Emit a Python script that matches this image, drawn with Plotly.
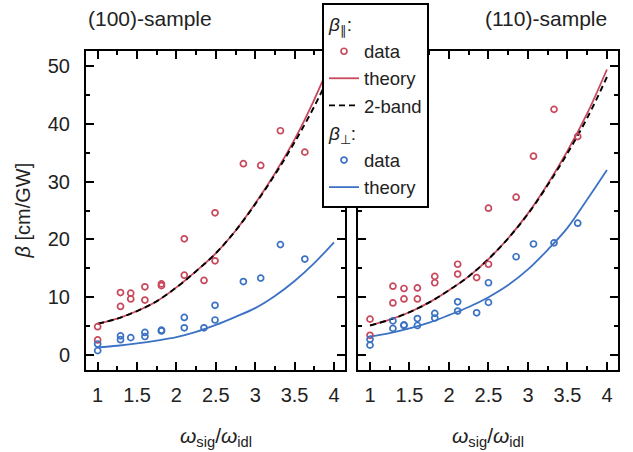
import plotly.graph_objects as go

# ---------------- data ----------------
# theory curve sample points
x_th = [1.0, 1.25, 1.5, 1.75, 2.0, 2.25, 2.5, 2.75, 3.0, 3.25, 3.5, 3.75, 4.0]

# (100)-sample
l_par_th = [5.4, 6.3, 7.6, 9.3, 11.7, 14.5, 17.6, 21.5, 26.2, 31.4, 37.3, 44.2, 52.0]
l_2band = [5.4, 6.3, 7.6, 9.3, 11.7, 14.5, 17.6, 21.5, 26.1, 31.2, 36.8, 43.0, 50.0]
l_perp_th = [1.3, 1.6, 2.0, 2.5, 3.1, 4.0, 5.2, 6.6, 8.1, 10.2, 12.8, 15.9, 19.5]

l_par_x = [1.0, 1.0, 1.29, 1.29, 1.42, 1.42, 1.6, 1.6, 1.81, 1.81, 2.1, 2.1, 2.35,
           2.49, 2.49, 2.85, 3.07, 3.32, 3.63]
l_par_y = [4.9, 2.6, 10.8, 8.4, 10.7, 9.7, 11.8, 9.5, 12.3, 12.0, 20.1, 13.8, 12.9,
           24.6, 16.3, 33.1, 32.8, 38.8, 35.1]
l_perp_x = [1.0, 1.0, 1.29, 1.29, 1.42, 1.6, 1.6, 1.81, 1.81, 2.1, 2.1, 2.35,
            2.49, 2.49, 2.85, 3.07, 3.32, 3.63]
l_perp_y = [1.9, 0.75, 3.3, 2.65, 3.0, 3.9, 3.2, 4.3, 4.15, 6.5, 4.7, 4.7,
            8.6, 6.05, 12.7, 13.3, 19.1, 16.6]

# (110)-sample
r_par_th = [5.1, 6.1, 7.4, 9.1, 11.2, 13.6, 16.6, 20.2, 24.5, 29.6, 35.3, 41.8, 49.4]
r_2band = [5.1, 6.1, 7.4, 9.1, 11.2, 13.6, 16.6, 20.2, 24.4, 29.4, 34.9, 41.0, 48.1]
r_perp_th = [3.2, 3.8, 4.6, 5.6, 6.9, 8.3, 10.0, 12.1, 14.8, 18.2, 22.0, 26.9, 32.0]

r_par_x = [1.0, 1.0, 1.29, 1.29, 1.43, 1.43, 1.6, 1.6, 1.82, 1.82, 2.11, 2.11, 2.35,
           2.5, 2.5, 2.85, 3.07, 3.33, 3.63]
r_par_y = [6.2, 3.4, 11.9, 9.0, 11.5, 9.7, 11.6, 9.7, 13.6, 12.5, 15.7, 14.0, 13.4,
           25.4, 15.7, 27.3, 34.4, 42.5, 37.8]
r_perp_x = [1.0, 1.0, 1.29, 1.29, 1.43, 1.43, 1.6, 1.6, 1.82, 1.82, 2.11, 2.11, 2.35,
            2.5, 2.5, 2.85, 3.07, 3.33, 3.63]
r_perp_y = [2.7, 1.7, 5.9, 4.6, 5.2, 5.1, 6.3, 5.1, 7.2, 6.4, 9.2, 7.6, 7.3,
            12.5, 9.1, 17.0, 19.2, 19.4, 22.8]

x_ticks = [1, 1.5, 2, 2.5, 3, 3.5, 4]
x_ticklabels = ["1", "1.5", "2", "2.5", "3", "3.5", "4"]
y_ticks = [0, 10, 20, 30, 40, 50]

titles = ["(100)-sample", "(110)-sample"]

# ---------------- style ----------------
RED = "#C8485C"
BLUE = "#3B72C4"
FONT = "Liberation Sans"
TXT = "#222"

fig = go.Figure()

panels = [
    ("x", "y", l_par_th, l_2band, l_perp_th, l_par_x, l_par_y, l_perp_x, l_perp_y, True),
    ("x2", "y2", r_par_th, r_2band, r_perp_th, r_par_x, r_par_y, r_perp_x, r_perp_y, False),
]

par_title = "<i>β</i><sub>∥</sub>:"
perp_title = "<i>β</i><sub>⊥</sub>:"

for xa, ya, pth, band, perth, px, py, qx, qy, show in panels:
    fig.add_trace(go.Scatter(x=x_th, y=pth, mode="lines", line=dict(color=RED, width=1.8, shape="spline"),
                             name="theory", legendgroup="par", legendgrouptitle_text=par_title,
                             legendrank=2, showlegend=show, xaxis=xa, yaxis=ya))
    fig.add_trace(go.Scatter(x=x_th, y=band, mode="lines",
                             line=dict(color="black", width=1.9, dash="6px,4px", shape="spline"),
                             name="2-band", legendgroup="par", legendrank=3, showlegend=show,
                             xaxis=xa, yaxis=ya))
    fig.add_trace(go.Scatter(x=x_th, y=perth, mode="lines", line=dict(color=BLUE, width=1.8, shape="spline"),
                             name="theory", legendgroup="perp", legendgrouptitle_text=perp_title,
                             legendrank=5, showlegend=show, xaxis=xa, yaxis=ya))
    fig.add_trace(go.Scatter(x=px, y=py, mode="markers",
                             marker=dict(symbol="circle-open", size=6, color=RED, line=dict(width=1.7)),
                             name="data", legendgroup="par", legendgrouptitle_text=par_title,
                             legendrank=1, showlegend=show, xaxis=xa, yaxis=ya))
    fig.add_trace(go.Scatter(x=qx, y=qy, mode="markers",
                             marker=dict(symbol="circle-open", size=6, color=BLUE, line=dict(width=1.7)),
                             name="data", legendgroup="perp", legendgrouptitle_text=perp_title,
                             legendrank=4, showlegend=show, xaxis=xa, yaxis=ya))

axis_common = dict(
    showline=True, linecolor="black", linewidth=2, mirror="allticks",
    ticks="inside", ticklen=8, tickwidth=2, tickcolor="black",
    showgrid=False, zeroline=False,
    tickfont=dict(family=FONT, size=20, color=TXT),
)

L = 86
R = 618
W = 633
H = 452
T = 51
B = 370
pw = R - L
d1 = (345 - L) / pw
d2 = (358 - L) / pw

fig.update_layout(
    width=W, height=H,
    margin=dict(l=L, r=W - R, t=T, b=H - B, autoexpand=False),
    plot_bgcolor="white", paper_bgcolor="white",
    font=dict(family=FONT, size=20, color=TXT),
    xaxis=dict(domain=[0, d1], range=[0.852, 4.14], tickvals=x_ticks, ticktext=x_ticklabels,
               minor=dict(dtick=0.25, tick0=0, ticklen=4, tickwidth=2, ticks="inside", tickcolor="black"),
               ticklabelstandoff=6, **axis_common),
    xaxis2=dict(domain=[d2, 1], range=[0.848, 4.14], tickvals=x_ticks, ticktext=x_ticklabels,
                minor=dict(dtick=0.25, tick0=0, ticklen=4, tickwidth=2, ticks="inside", tickcolor="black"),
                ticklabelstandoff=6, anchor="y2", **axis_common),
    yaxis=dict(range=[-2.6, 52.6], tickvals=y_ticks,
               minor=dict(dtick=5, tick0=0, ticklen=4, tickwidth=2, ticks="inside", tickcolor="black"),
               ticklabelstandoff=10, **axis_common),
    yaxis2=dict(range=[-2.6, 52.6], tickvals=y_ticks, showticklabels=False, anchor="x2",
                minor=dict(dtick=5, tick0=0, ticklen=4, tickwidth=2, ticks="inside", tickcolor="black"),
                **axis_common),
    legend=dict(
        x=(322 - L) / pw, y=1 + (T - 3) / (B - T), xanchor="left", yanchor="top",
        bgcolor="white", bordercolor="black", borderwidth=2,
        font=dict(family=FONT, size=18.5, color=TXT),
        grouptitlefont=dict(family=FONT, size=19, color=TXT),
        traceorder="grouped", tracegroupgap=0, itemsizing="trace", itemwidth=30,
    ),
    showlegend=True,
    annotations=[
        dict(text=titles[0], xref="x domain", yref="paper", x=0, y=1, xshift=0, yshift=33,
             xanchor="left", yanchor="middle", showarrow=False, font=dict(family=FONT, size=21, color=TXT)),
        dict(text=titles[1], xref="x2 domain", yref="paper", x=1, y=1, xshift=-9, yshift=33,
             xanchor="right", yanchor="middle", showarrow=False, font=dict(family=FONT, size=21, color=TXT)),
        dict(text="<i>β</i> [cm/GW]", xref="paper", yref="paper", x=0, y=0.5, xshift=-64,
             textangle=-90, xanchor="center", yanchor="middle", showarrow=False,
             font=dict(family=FONT, size=20, color=TXT)),
        dict(text="<i>ω</i><sub>sig</sub>/<i>ω</i><sub>idl</sub>", xref="x domain", yref="paper",
             x=0.5, y=0, yshift=-67, xanchor="center", yanchor="middle", showarrow=False,
             font=dict(family=FONT, size=21, color=TXT)),
        dict(text="<i>ω</i><sub>sig</sub>/<i>ω</i><sub>idl</sub>", xref="x2 domain", yref="paper",
             x=0.5, y=0, yshift=-67, xanchor="center", yanchor="middle", showarrow=False,
             font=dict(family=FONT, size=21, color=TXT)),
    ],
)

fig.write_html("out.html", config={"displayModeBar": False},
               post_script="document.body.style.margin='0px';")
